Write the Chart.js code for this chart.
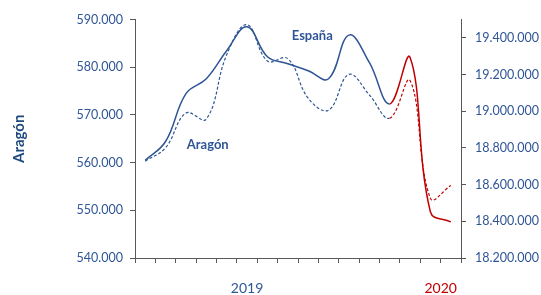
<!DOCTYPE html>
<html>
<head>
<meta charset="utf-8">
<script src="https://cdn.jsdelivr.net/npm/chart.js@4"></script>
<style>
  html, body { margin: 0; padding: 0; background: #fff; }
</style>
</head>
<body>
<canvas id="chart" width="541" height="295"></canvas>
<script>
const months = ["ene-19", "feb-19", "mar-19", "abr-19", "may-19", "jun-19", "jul-19", "ago-19",
  "sep-19", "oct-19", "nov-19", "dic-19", "ene-20", "feb-20", "mar-20", "abr-20"];
const aragon = [560300, 563100, 570400, 569100, 582600, 588900, 581300, 581800,
  573500, 571000, 578500, 574200, 569300, 577200, 552500, 555200];
const espana = [18732000, 18835000, 19096000, 19177000, 19330000, 19460000, 19297000, 19259000,
  19221000, 19177000, 19415000, 19266000, 19040000, 19293000, 18451000, 18397000];
const rightTicks = [18200000, 18400000, 18600000, 18800000, 19000000, 19200000, 19400000];
const yearLabels = ["2019", "2020"];
const yearLabelAt = [5, 14.5];
const redFrom = 12;

const BLUE = "#2e5596";
const TEXT_BLUE = "#2f5597";
const RED = "#c00000";
const AXIS = "#595959";
const FONT = "Lato, 'Open Sans', sans-serif";

const fmt = (v) => Math.round(v).toString().replace(/\B(?=(\d{3})+(?!\d))/g, ".");
const segColor = (ctx) => (ctx.p0DataIndex >= redFrom ? RED : BLUE);

Chart.register({
  id: "extraText",
  afterDraw(chart) {
    const ctx = chart.ctx;
    const x = chart.scales.x;
    const yL = chart.scales.y;
    const yR = chart.scales.y2;
    ctx.save();
    ctx.textAlign = "center";
    ctx.textBaseline = "middle";
    ctx.font = `14px ${FONT}`;
    yearLabels.forEach((label, i) => {
      ctx.fillStyle = i === 0 ? TEXT_BLUE : RED;
      ctx.fillText(label, x.getPixelForValue(yearLabelAt[i]), 288);
    });
    ctx.font = `bold 13px ${FONT}`;
    ctx.fillStyle = TEXT_BLUE;
    ctx.fillText("España", x.getPixelForValue(8.2), yR.getPixelForValue(19410000));
    ctx.fillText("Aragón", x.getPixelForValue(3.07), yL.getPixelForValue(563700));
    ctx.restore();
  }
});

new Chart(document.getElementById("chart"), {
  type: "line",
  data: {
    labels: months,
    datasets: [
      {
        label: "España",
        data: espana,
        yAxisID: "y2",
        borderColor: BLUE,
        borderWidth: 1.5,
        pointRadius: 0,
        tension: 0.4,
        segment: { borderColor: segColor }
      },
      {
        label: "Aragón",
        data: aragon,
        yAxisID: "y",
        borderColor: BLUE,
        borderWidth: 1.2,
        borderDash: [3, 2],
        pointRadius: 0,
        tension: 0.4,
        segment: { borderColor: segColor }
      }
    ]
  },
  options: {
    responsive: false,
    animation: false,
    layout: { padding: { top: 19.5, right: 0, bottom: 0, left: 0 } },
    plugins: {
      legend: { display: false },
      tooltip: { enabled: false }
    },
    scales: {
      x: {
        offset: true,
        grid: { offset: true, drawOnChartArea: false, tickLength: 5, color: AXIS },
        border: { color: AXIS, width: 1 },
        ticks: { display: false },
        afterFit: (s) => { s.height = 37; }
      },
      y: {
        position: "left",
        min: 540000,
        max: 590000,
        ticks: {
          stepSize: 10000,
          callback: (v) => fmt(v),
          color: TEXT_BLUE,
          font: { family: FONT, size: 12.5 },
          padding: 7
        },
        grid: { drawOnChartArea: false, tickLength: 5, color: AXIS },
        border: { color: AXIS, width: 1 },
        title: {
          display: true,
          text: "Aragón",
          color: "#1f497d",
          font: { family: FONT, size: 15, weight: "bold" },
          padding: { top: 10, bottom: 0 }
        },
        afterFit: (s) => { s.width = 135; }
      },
      y2: {
        position: "right",
        min: 18200000,
        max: 19500000,
        afterBuildTicks: (s) => { s.ticks = rightTicks.map((v) => ({ value: v })); },
        ticks: {
          callback: (v) => fmt(v),
          color: TEXT_BLUE,
          font: { family: FONT, size: 12.5 },
          padding: 9
        },
        grid: { drawOnChartArea: false, tickLength: 5, color: AXIS },
        border: { color: AXIS, width: 1 },
        afterFit: (s) => { s.width = 80; }
      }
    }
  }
});
</script>
</body>
</html>
